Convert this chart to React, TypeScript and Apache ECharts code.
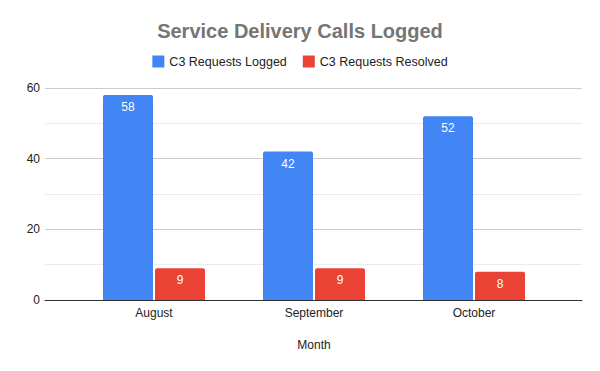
import React, { useEffect, useRef } from "react";
import * as echarts from "echarts";

const months = ["August", "September", "October"];
const logged = [58, 42, 52];
const resolved = [9, 9, 8];
const seriesNames = ["C3 Requests Logged", "C3 Requests Resolved"];

export default function App() {
  const ref = useRef<HTMLDivElement>(null);
  useEffect(() => {
    const chart = echarts.init(ref.current!, null, { renderer: "svg" });
    const font = "'Liberation Sans', Arial, sans-serif";
    const top = 88;
    const bottom = 71;
    chart.setOption({
      animation: false,
      textStyle: { fontFamily: font },
      title: {
        text: "Service Delivery Calls Logged",
        left: "center",
        top: 16,
        textStyle: { fontFamily: font, fontSize: 20, fontWeight: "bold", color: "#757575" },
      },
      legend: {
        top: 50,
        left: "center",
        itemWidth: 12,
        itemHeight: 12,
        itemGap: 16,
        icon: "rect",
        data: seriesNames,
        textStyle: { fontFamily: font, fontSize: 12.5, color: "#222" },
      },
      grid: [
        { left: 45, right: 18, top, bottom },
        { left: 74, width: 480, top, bottom },
      ],
      xAxis: [
        {
          gridIndex: 0,
          type: "category",
          data: months,
          axisLine: { show: true, lineStyle: { color: "#333", width: 1 } },
          axisTick: { show: false },
          axisLabel: { show: false },
          splitLine: { show: false },
        },
        {
          gridIndex: 1,
          type: "category",
          data: months,
          axisLine: { show: false },
          axisTick: { show: false },
          axisLabel: { color: "#222", fontSize: 12, margin: 7, fontFamily: font },
          name: "Month",
          nameLocation: "middle",
          nameGap: 39,
          nameTextStyle: { color: "#222", fontSize: 12, fontFamily: font },
        },
      ],
      yAxis: [
        {
          gridIndex: 0,
          type: "value",
          min: 0,
          max: 60,
          interval: 20,
          axisLine: { show: false },
          axisTick: { show: false },
          axisLabel: { color: "#222", fontSize: 12, margin: 5, fontFamily: font },
          splitLine: { lineStyle: { color: "#cccccc" } },
          minorTick: { show: false, splitNumber: 2 },
          minorSplitLine: { show: true, lineStyle: { color: "#ebebeb" } },
        },
        {
          gridIndex: 1,
          type: "value",
          min: 0,
          max: 60,
          interval: 20,
          show: false,
          splitLine: { show: false },
        },
      ],
      series: [
        {
          name: seriesNames[0],
          type: "bar",
          xAxisIndex: 1,
          yAxisIndex: 1,
          data: logged,
          barWidth: 50,
          barGap: "4%",
          itemStyle: { color: "#4285F4", borderRadius: [2, 2, 0, 0] },
          label: { show: true, position: "insideTop", distance: 6, color: "#fff", fontSize: 12, fontFamily: font },
        },
        {
          name: seriesNames[1],
          type: "bar",
          xAxisIndex: 1,
          yAxisIndex: 1,
          data: resolved,
          barWidth: 50,
          barGap: "4%",
          itemStyle: { color: "#EA4335", borderRadius: [2, 2, 0, 0] },
          label: { show: true, position: "insideTop", distance: 6, color: "#fff", fontSize: 12, fontFamily: font },
        },
      ],
    });
    return () => chart.dispose();
  }, []);
  return <div ref={ref} style={{ width: 600, height: 371, position: "absolute", left: 0, top: 0 }} />;
}
